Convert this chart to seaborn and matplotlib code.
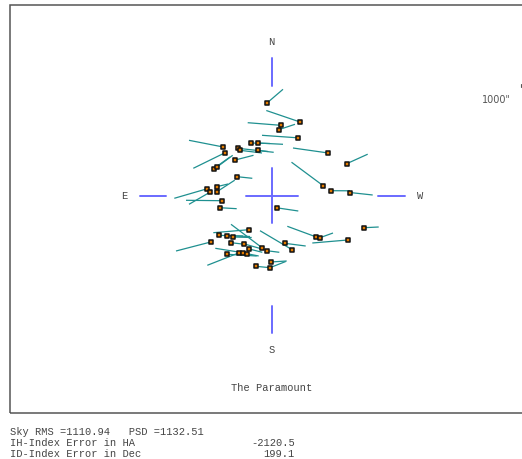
import numpy as np
import pandas as pd
import matplotlib
matplotlib.use("Agg")
import matplotlib.pyplot as plt
from matplotlib.patches import Rectangle
import seaborn as sns

# yildiz konumlari (merkeze gore, kuzey yukari, dogu solda)
star_x = [-4.5, 28.5, 9.2, 7.2, 26.0, -48.2, -20.5, -13.8, -33.5, -31.5,
          -13.8, -47.0, -36.3, -58.0, -54.2, 56.8, 75.2, -34.3, 51.8, 59.5,
          78.3, -64.5, -61.7, -54.3, -55.0, -49.8, -51.7, 5.2, -22.5, -53.0,
          -44.8, -38.2, -60.8, -40.2, -28.0, -9.5, -4.8, -22.2, -44.2, -32.2,
          -28.8, -24.5, -1.0, -1.8, -15.5, 44.8, 48.5, 76.2, 92.5, 13.2, 20.8]
star_y = [92.7, 73.7, 70.4, 66.0, 57.9, 48.7, 52.7, 52.7, 47.4, 45.4,
          45.4, 42.7, 35.7, 26.9, 28.9, 42.7, 32.0, 19.0, 9.9, 5.0,
          3.2, 6.9, 3.4, 9.1, 3.7, -5.0, -12.0, -12.1, -34.0, -39.6,
          -40.0, -41.3, -46.3, -47.0, -48.0, -52.0, -55.0, -53.3, -58.6, -57.0,
          -57.0, -58.0, -66.3, -72.1, -70.6, -41.3, -42.0, -44.3, -32.0, -47.6, -54.1]

# hata vektorleri
err_dx = [16.0, -33.7, -33.0, 16.3, -35.5, -34.3, 19.0, 25.3, 35.7, 22.0,
          10.3, -31.2, 18.3, 16.5, 15.4, -35.3, 21.0, 15.1, -31.8, 19.0,
          22.9, -32.7, -20.8, 10.8, 18.2, -35.7, 16.9, 21.6, -35.7, 31.5,
          16.3, 18.4, -34.7, 14.7, 18.5, -31.0, 12.6, 13.0, 29.4, -32.0,
          -27.4, 11.7, 16.2, 16.0, 12.0, -29.0, 13.0, -35.4, 14.7, 21.0, -32.3]
err_dy = [13.7, 11.5, 2.6, 5.4, 2.5, 6.7, -0.5, -1.3, -4.0, -2.7,
          -1.2, -15.3, 4.7, 11.8, 11.5, 5.0, 9.5, -1.6, 23.6, -0.1,
          -2.5, -9.5, -12.0, 2.6, 11.8, 0.4, -1.0, -3.2, -3.0, -1.2,
          -0.3, -0.5, -9.0, -1.8, -5.3, 23.4, -1.6, -3.3, -1.7, -12.6,
          4.4, -2.3, 1.0, 6.3, -1.2, 10.7, 4.7, -3.0, 0.7, -2.7, 19.1]

stat_lines = ["Sky RMS =1110.94   PSD =1132.51",
              "IH-Index Error in HA",
              "ID-Index Error in Dec"]
stat_values = ["", "-2120.5", "199.1"]

df = pd.DataFrame({"x": star_x, "y": star_y, "dx": err_dx, "dy": err_dy})

sns.set_style("white")
mono = "Liberation Mono"
txt_col = "#444444"
guide = "#6a6aff"

fig = plt.figure(figsize=(5.22, 4.59), dpi=100)
ax = fig.add_axes([0, 0, 1, 1])

# cerceve
ax.add_patch(Rectangle((-261.5, -217.3), 600, 408, fill=False,
                       edgecolor="#555555", lw=1.1, clip_on=True))

# yon cizgileri
ax.plot([0, 0], [110, 137.7], color=guide, lw=1.4)
ax.plot([0, 0], [-110.3, -137.3], color=guide, lw=1.4)
ax.plot([-105.5, -131.5], [0, 0], color=guide, lw=1.4)
ax.plot([106.5, 133], [0, 0], color=guide, lw=1.4)
ax.plot([-26, 26], [0, 0], color=guide, lw=1.4)
ax.plot([0, 0], [-27, 27.4], color=guide, lw=1.4)

ax.text(0, 153.7, "N", ha="center", va="center", family=mono, fontsize=7.5, color=txt_col)
ax.text(0, -154.3, "S", ha="center", va="center", family=mono, fontsize=7.5, color=txt_col)
ax.text(-147.5, 0, "E", ha="center", va="center", family=mono, fontsize=7.5, color=txt_col)
ax.text(148.5, 0, "W", ha="center", va="center", family=mono, fontsize=7.5, color=txt_col)
ax.text(0, -192.3, "The Paramount", ha="center", va="center", family=mono,
        fontsize=7.5, color=txt_col)

# olcek
ax.text(224.5, 95.7, '1000"', ha="center", va="center", fontsize=7, color="#555555")
ax.plot([249.5, 249.5], [108.5, 111.5], color="#555555", lw=0.8)

# hata vektorleri
for _, r in df.iterrows():
    ax.plot([r.x, r.x + r.dx], [r.y, r.y + r.dy], color="#1f9090", lw=0.9,
            solid_capstyle="butt", zorder=2)

sns.scatterplot(data=df, x="x", y="y", marker="s", s=8, color="#e07a00",
                edgecolor="#111111", linewidth=1.1, ax=ax, zorder=3, legend=False)
ax.set_xlim(-271.5, 250.5)
ax.set_ylim(-263.3, 195.7)
ax.axis("off")

# istatistikler
for i, (lbl, val) in enumerate(zip(stat_lines, stat_values)):
    yy = -236.3 - i * 11
    ax.text(-261.5, yy, lbl, ha="left", va="center", family=mono, fontsize=7.5, color=txt_col)
    if val:
        ax.text(23.5, yy, val, ha="right", va="center", family=mono, fontsize=7.5, color=txt_col)

fig.savefig("out.png", dpi=100, facecolor="white")
